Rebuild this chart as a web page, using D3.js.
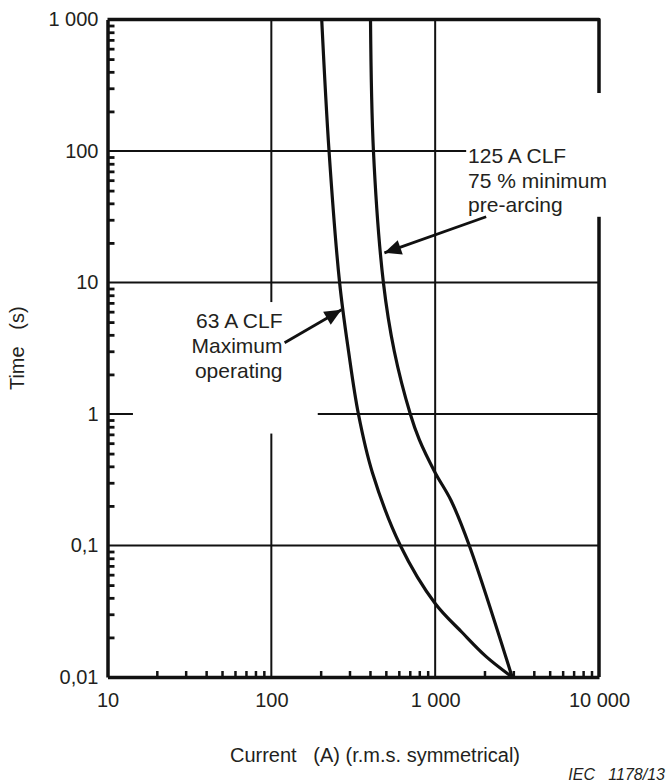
<!DOCTYPE html>
<html>
<head>
<meta charset="utf-8">
<script src="https://cdn.jsdelivr.net/npm/d3@7"></script>
<style>
  body { margin: 0; background: #fff; }
  svg text { font-family: "Liberation Sans", Arial, sans-serif; fill: #231f20; }
</style>
</head>
<body>
<svg id="chart"></svg>
<script>
// tick values and labels
const xTicks = [10, 100, 1000, 10000];
const xTickLabels = ['10', '100', '1 000', '10 000'];
const yTicks = [0.01, 0.1, 1, 10, 100, 1000];
const yTickLabels = ['0,01', '0,1', '1', '10', '100', '1 000'];

// curves (current A, time s)
const clf63Current = [203, 225, 261, 296, 340, 414, 613, 1000, 1462, 2048, 2950];
const clf63Time = [1000, 100, 10, 3, 1, 0.358, 0.1, 0.0362, 0.0218, 0.0143, 0.01];
const clf125Current = [403, 420, 483, 563, 705, 800, 1000, 1250, 1615, 2950];
const clf125Time = [1000, 100, 10, 3, 1, 0.638, 0.358, 0.22, 0.1, 0.01];

// annotations
const labels125 = ['125 A CLF', '75 % minimum', 'pre-arcing'];
const labels63 = ['63 A CLF', 'Maximum', 'operating'];

const width = 668, height = 784;
const pLeft = 107.5, pRight = 599, pTop = 19.5, pBottom = 677;

const svg = d3.select('#chart')
    .attr('width', width)
    .attr('height', height);

const x = d3.scaleLog().domain([10, 10000]).range([pLeft, pRight]);
const y = d3.scaleLog().domain([0.01, 1000]).range([pBottom, pTop]);

// minor ticks 2..9 in every decade
function minors(lo, hi) {
    let out = [];
    for (let d = lo; d < hi; d *= 10) {
        for (let k = 2; k <= 9; k++) out.push(d * k);
    }
    return out;
}

// gridlines
svg.append('g').selectAll('line')
    .data([100, 1000])
    .enter().append('line')
        .attr('x1', d => x(d)).attr('x2', d => x(d))
        .attr('y1', pTop).attr('y2', pBottom)
        .attr('stroke', '#111').attr('stroke-width', 2);

svg.append('g').selectAll('line')
    .data([0.1, 1, 10, 100])
    .enter().append('line')
        .attr('x1', pLeft).attr('x2', pRight)
        .attr('y1', d => y(d)).attr('y2', d => y(d))
        .attr('stroke', '#111').attr('stroke-width', 2);

// frame (top and right)
svg.append('path')
    .attr('d', `M${pLeft},${pTop}H${pRight}V${pBottom}`)
    .attr('fill', 'none')
    .attr('stroke', '#111')
    .attr('stroke-width', 3.5)
    .attr('stroke-linejoin', 'round');

// curves
let line = d3.line()
    .x(d => x(d[0]))
    .y(d => y(d[1]))
    .curve(d3.curveCatmullRom.alpha(0.5));

[[clf63Current, clf63Time], [clf125Current, clf125Time]].forEach(c => {
    svg.append('path')
        .datum(c[0].map((v, i) => [v, c[1][i]]))
        .attr('d', line)
        .attr('fill', 'none')
        .attr('stroke', '#111')
        .attr('stroke-width', 3.2);
});

// white boxes behind the annotations
svg.append('rect')
    .attr('x', x(14.3)).attr('y', y(7.1))
    .attr('width', x(192) - x(14.3)).attr('height', y(0.71) - y(7.1))
    .attr('fill', '#fff');
svg.append('rect')
    .attr('x', x(1546)).attr('y', y(276))
    .attr('width', x(13000) - x(1546)).attr('height', y(31.6) - y(276))
    .attr('fill', '#fff');

// axes
let xAxis = d3.axisBottom(x).tickValues(xTicks)
    .tickFormat((d, i) => xTickLabels[i]).tickSize(0).tickPadding(16);
let gx = svg.append('g')
    .attr('transform', `translate(0,${pBottom})`)
    .call(xAxis);

let yAxis = d3.axisLeft(y).tickValues(yTicks)
    .tickFormat((d, i) => yTickLabels[i]).tickSize(0).tickPadding(9);
let gy = svg.append('g')
    .attr('transform', `translate(${pLeft},0)`)
    .call(yAxis);

[gx, gy].forEach(g => {
    g.select('.domain').attr('stroke', '#111').attr('stroke-width', 3.5);
    g.selectAll('text').style('font-size', '20px').attr('fill', '#231f20');
});

svg.append('g')
    .attr('transform', `translate(0,${pBottom})`)
    .call(d3.axisBottom(x).tickValues(minors(10, 10000)).tickSize(-6).tickFormat(''))
    .call(g => g.select('.domain').remove())
    .selectAll('line').attr('stroke', '#111').attr('stroke-width', 2.5);

svg.append('g')
    .attr('transform', `translate(${pLeft},0)`)
    .call(d3.axisLeft(y).tickValues(minors(0.01, 1000)).tickSize(-7).tickFormat(''))
    .call(g => g.select('.domain').remove())
    .selectAll('line').attr('stroke', '#111').attr('stroke-width', 2.8);

// axis titles
svg.append('text')
    .attr('x', 375).attr('y', 762)
    .attr('text-anchor', 'middle')
    .style('font-size', '20px')
    .style('white-space', 'pre')
    .text('Current   (A) (r.m.s. symmetrical)');

svg.append('text')
    .attr('transform', `translate(24,${(pTop + pBottom) / 2}) rotate(-90)`)
    .attr('text-anchor', 'middle')
    .style('font-size', '20px')
    .style('white-space', 'pre')
    .text('Time   (s)');

svg.append('text')
    .attr('x', 665).attr('y', 780)
    .attr('text-anchor', 'end')
    .style('font-size', '16px')
    .style('font-style', 'italic')
    .style('white-space', 'pre')
    .text('IEC   1178/13');

// annotation text
svg.append('g').selectAll('text')
    .data(labels125)
    .enter().append('text')
        .attr('x', x(1589))
        .attr('y', (d, i) => y(100) + 12 + i * 24.5)
        .style('font-size', '21px')
        .text(d => d);

svg.append('g').selectAll('text')
    .data(labels63)
    .enter().append('text')
        .attr('x', x(117))
        .attr('y', (d, i) => y(10) + 45 + i * 25)
        .attr('text-anchor', 'end')
        .style('font-size', '21px')
        .text(d => d);

// arrows
svg.append('defs').append('marker')
    .attr('id', 'head')
    .attr('viewBox', '0 0 10 10')
    .attr('refX', 10).attr('refY', 5)
    .attr('markerWidth', 6.5).attr('markerHeight', 6)
    .attr('markerUnits', 'strokeWidth')
    .attr('orient', 'auto')
    .append('path')
        .attr('d', 'M0,0.5L10,5L0,9.5Z')
        .attr('fill', '#111');

[[2048, 31.6, 490, 16.8], [120.5, 3.48, 268, 6.2]].forEach(a => {
    svg.append('line')
        .attr('x1', x(a[0])).attr('y1', y(a[1]))
        .attr('x2', x(a[2])).attr('y2', y(a[3]))
        .attr('stroke', '#111')
        .attr('stroke-width', 2.8)
        .attr('marker-end', 'url(#head)');
});
</script>
</body>
</html>
